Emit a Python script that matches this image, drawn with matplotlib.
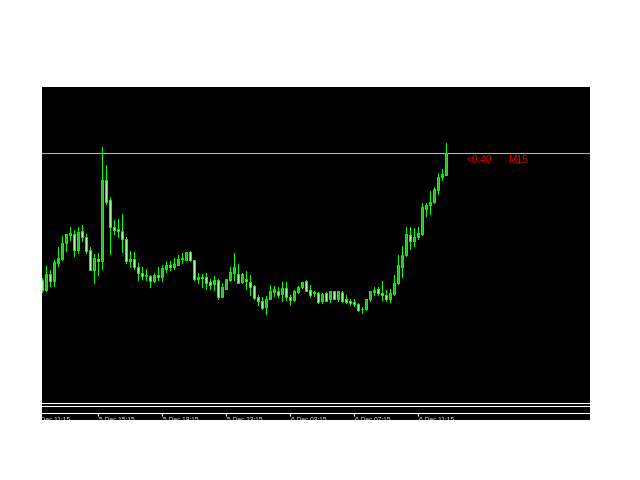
import numpy as np
import matplotlib
matplotlib.use("Agg")
import matplotlib.pyplot as plt
from matplotlib.transforms import blended_transform_factory

# M15 candles, prices (arbitrary price units)
opens = [200, 190, 206, 199.3, 217.3, 221.3, 236.7, 245.3, 246, 230,
         248.7, 242.7, 230, 210, 220.7, 218.7, 300, 280, 252.7, 251.3,
         248.7, 240.7, 218.7, 220.7, 213.3, 207.3, 205.3, 204, 199.3, 204.7,
         203.3, 211.3, 215.3, 212.7, 215.3, 220.7, 220, 228, 220, 200.7,
         203.3, 203.3, 198, 196, 200, 183.3, 190.7, 200, 207.3, 206,
         198, 201.3, 198, 194, 183.3, 179.3, 173.3, 181.3, 188, 189.3,
         186, 192, 183.3, 180, 188, 192.7, 199.3, 190, 188, 187.3,
         178.7, 186.7, 180.7, 188.7, 180.7, 188, 180.7, 178.7, 178, 176,
         171.3, 170.7, 180.7, 188, 190.7, 187.3, 184.7, 181.3, 186, 196.7,
         213.3, 224.7, 245.3, 239.3, 242.7, 246, 271.3, 274.7, 278, 290,
         302.7, 305.3]
highs = [202, 214, 210, 220, 232.7, 244, 246, 253.3, 250, 253.3,
         254.7, 246, 232.7, 226, 226.7, 333.3, 315, 283.3, 260, 260.7,
         266, 242.7, 228.7, 228, 217.3, 212.7, 210.7, 205.3, 206.7, 213.3,
         215.3, 218.7, 219.3, 222, 224.7, 227.3, 228, 229.3, 220, 206.7,
         206, 207.3, 200.7, 204, 200.7, 197.3, 201.3, 213.3, 227.3, 216,
         206.7, 208.7, 204.7, 194.7, 184.7, 182.7, 184, 194.7, 194, 193.3,
         198, 198, 185.3, 190, 194, 198, 200, 195.3, 189.3, 188,
         186.7, 188, 189.3, 189.3, 189.3, 188.7, 184.7, 181.3, 180.7, 176.7,
         173.3, 181.3, 189.3, 193.3, 192.7, 199.3, 190, 191.3, 205.3, 224.7,
         234, 252.7, 252.7, 252, 252.7, 277.3, 277.3, 289.3, 292.7, 307.3,
         310.7, 336.7]
lows = [188, 189.3, 194, 194, 214, 220, 229.3, 240, 224, 227.3,
        239.3, 226.7, 210, 197.3, 205.3, 210.7, 276, 226, 246, 243.3,
        228.3, 217.3, 212.7, 211.3, 200, 201.3, 200, 193.3, 198, 200,
        199.3, 208, 210, 210.7, 215.3, 217.3, 220, 219.3, 200, 196.7,
        193.3, 191.3, 191.3, 190, 180.7, 183.3, 190.7, 199.3, 200, 196.7,
        196.7, 191.3, 185.3, 181.3, 175.3, 170.7, 166, 180.7, 184, 183.3,
        178.7, 180, 174.7, 178.7, 186.7, 192, 188.7, 183.3, 184, 177.3,
        177.3, 178.7, 178, 180.7, 178.7, 178, 176.7, 174.7, 174, 168.7,
        167.3, 170, 178.7, 184.7, 185.3, 180, 178.7, 178, 185.3, 196,
        203.3, 224, 230.7, 234, 240.7, 245.3, 264, 266, 276.7, 286,
        300, 304.7]
closes = [190, 206, 199.3, 218, 222, 236.7, 246, 246.7, 230, 248,
          242.7, 229.3, 210, 222, 218.7, 300, 278.3, 252.7, 250, 248.7,
          240.7, 218.7, 221.3, 212.7, 206.7, 204, 204, 199.3, 205.3, 203.3,
          212, 215.3, 212.7, 216, 221.3, 222, 228, 220, 200.7, 203.3,
          202, 197.3, 195.3, 200, 183.3, 192.7, 201.3, 208, 213.3, 197.3,
          206, 199.3, 193.3, 182, 178.7, 172, 181.3, 189.3, 190.7, 185.3,
          192, 182.7, 180, 188.7, 193.3, 198, 189.3, 185.3, 186.7, 178,
          186, 179.3, 188.7, 181.3, 188.7, 178.7, 178, 176.7, 176, 170,
          170.7, 180.7, 188.7, 190, 186.7, 184.7, 181.3, 187.3, 197.3, 214.7,
          224.7, 246, 239.3, 243.3, 247.3, 272.7, 274.7, 278, 290.7, 302.7,
          306, 326.7]
bid = 326.7

# time axis: candle index of each label (first one is partly off-screen)
tick_idx = [-2, 14, 30, 46, 62, 78, 94]
tick_labels = ["5 Dec 11:15", "5 Dec 15:15", "5 Dec 19:15", "5 Dec 23:15",
               "6 Dec 03:15", "6 Dec 07:15", "6 Dec 11:15"]

fig = plt.figure(figsize=(6.4, 4.8), dpi=100, facecolor="white")
ax = fig.add_axes([42 / 640, 60 / 480, 548 / 640, 333 / 480])
ax.set_facecolor("black")
for s in ax.spines.values():
    s.set_visible(False)
ax.set_xticks([])
ax.set_yticks([])
ax.set_xlim(0.125, 137.125)  # 4 px per candle, centres on pixel centres
ax.set_ylim(60, 393)

o = np.array(opens)
h = np.array(highs)
l = np.array(lows)
c = np.array(closes)
idx = np.arange(len(o))
bull = c >= o

lime = "#00ff00"
ax.vlines(idx, l, h, color=lime, linewidth=0.72, antialiased=False, zorder=2)
bottoms = np.minimum(o, c)
heights = np.maximum(np.abs(c - o), 0.3)
ax.bar(idx, heights, bottom=bottoms, width=0.5,
       color=np.where(bull, "#28b828", "#a8f8a8"), edgecolor=lime,
       linewidth=0.72, zorder=3)

# bid line
ax.axhline(bid, color="#b4b4b4", linewidth=0.8, zorder=1)

# timer / period comment
ax.annotate("<0:40", xy=(idx[-1], bid), xytext=(21, -12),
            textcoords="offset pixels", color="#e80000", fontsize=7.3,
            family="Liberation Sans", ha="left", va="bottom")
ax.annotate("M15", xy=(idx[-1], bid), xytext=(63, -12),
            textcoords="offset pixels", color="#e80000", fontsize=7.3,
            family="Liberation Sans", ha="left", va="bottom")

# separator lines and time scale at the bottom
for f in [0.051, 0.0435, 0.021]:
    ax.plot([0, 1], [f, f], transform=ax.transAxes, color="white",
            linewidth=0.8, zorder=4)
tr = blended_transform_factory(ax.transData, ax.transAxes)
ax.vlines(tick_idx, 0.012, 0.021, transform=tr, color="white", linewidth=0.8)
for k, lab in zip(tick_idx, tick_labels):
    ax.text(k + 0.3, 0.0085, lab, transform=tr, color="#d8d8d8",
            fontsize=4.8, family="Liberation Sans", ha="left", va="top",
            clip_on=True)

fig.savefig("out.png", dpi=100, facecolor="white")
